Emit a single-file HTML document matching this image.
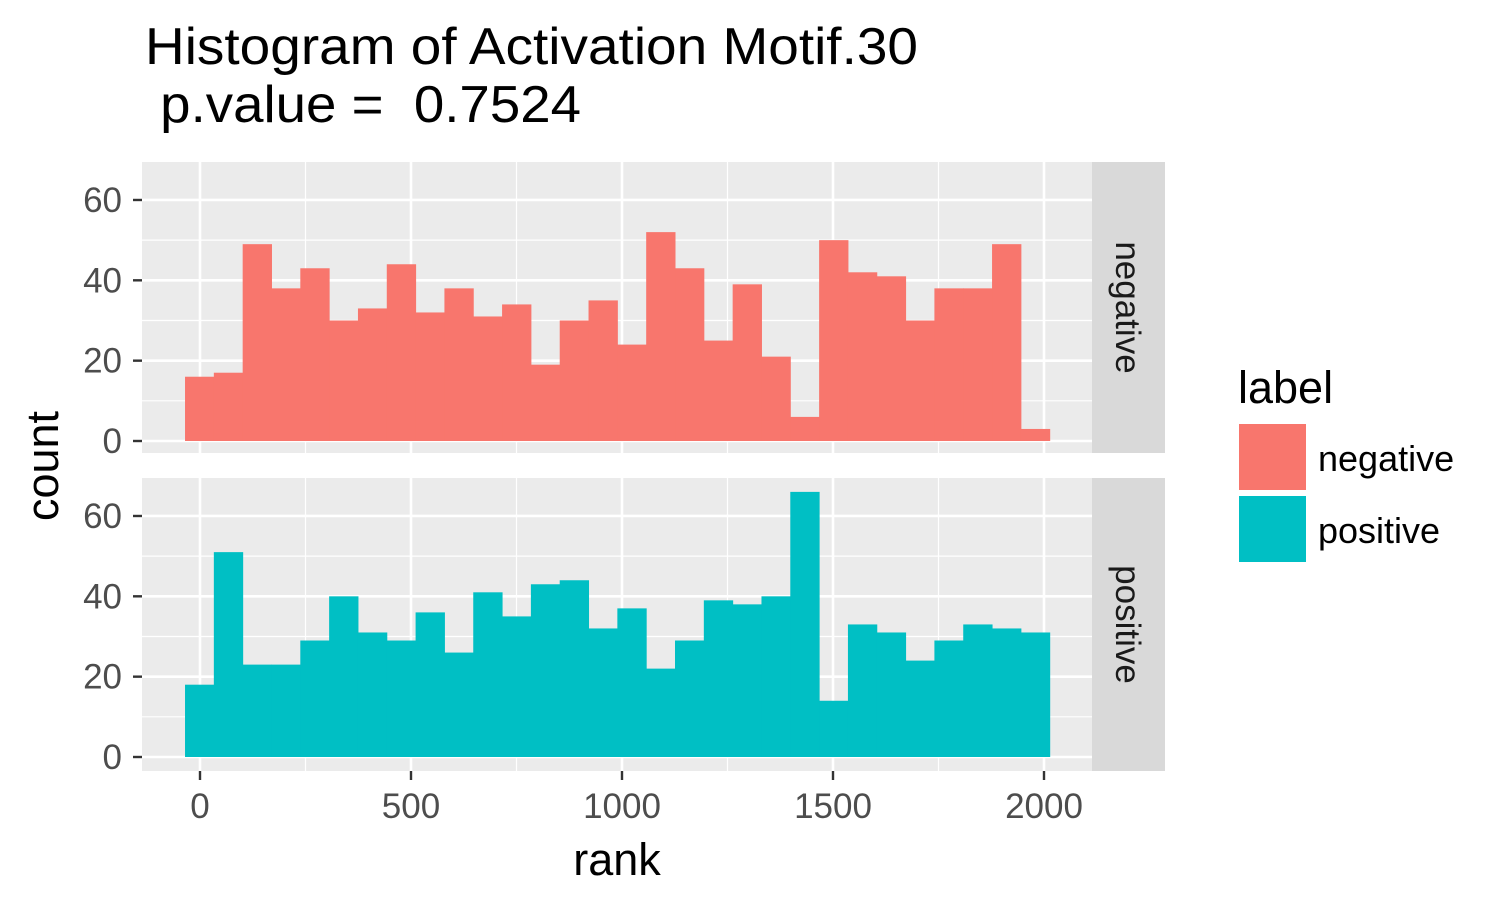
<!DOCTYPE html>
<html><head><meta charset="utf-8"><style>
body{margin:0;background:#fff}
svg{font-family:"Liberation Sans",Arial,sans-serif}
</style></head><body>
<svg id="chart" width="1500" height="900" xmlns="http://www.w3.org/2000/svg">
<text x="145" y="64" font-size="52" textLength="773" lengthAdjust="spacingAndGlyphs">Histogram of Activation Motif.30</text>
<text x="145" y="122" font-size="52" textLength="436" lengthAdjust="spacingAndGlyphs" xml:space="preserve"> p.value =  0.7524</text>
<g id="panels"></g>
<text x="617" y="875" font-size="45" text-anchor="middle">rank</text>
<text transform="translate(58,466) rotate(-90)" font-size="45" text-anchor="middle">count</text>
<g>
<text x="1238" y="403" font-size="45">label</text>
<rect x="1239" y="424" width="67" height="66" fill="#F8766D"/>
<text x="1318" y="471" font-size="36">negative</text>
<rect x="1239" y="496" width="67" height="66" fill="#00BFC4"/>
<text x="1318" y="543" font-size="36">positive</text>
</g>
</svg>
<script>
const binStart = -35.5;
const binWidth = 68.3;
const negativeCounts = [16,17,49,38,43,30,33,44,32,38,31,34,19,30,35,24,52,43,25,39,21,6,50,42,41,30,38,38,49,3];
const positiveCounts = [18,51,23,23,29,40,31,29,36,26,41,35,43,44,32,37,22,29,39,38,40,66,14,33,31,24,29,33,32,31];
const xTicks = [0,500,1000,1500,2000];
const xMinor = [250,750,1250,1750];
const yTicks = [0,20,40,60];
const yMinor = [10,30,50];

const NS="http://www.w3.org/2000/svg";
const g=document.getElementById('panels');
const X0=142,X1=1092;
const xs=v=>200+v*0.422;
function mk(tag,attrs,parent){const e=document.createElementNS(NS,tag);for(const k in attrs)e.setAttribute(k,attrs[k]);(parent||g).appendChild(e);return e;}
const panels=[{name:'negative',top:162,bot:453,zero:441,data:negativeCounts,color:'#F8766D'},
{name:'positive',top:478,bot:771,zero:757,data:positiveCounts,color:'#00BFC4'}];
panels.forEach(p=>{
  const ys=v=>p.zero-v*4.017;
  const bg=mk('rect',{x:X0,y:p.top,width:X1-X0,height:p.bot-p.top,fill:'#EBEBEB'});
  
  
  yMinor.forEach(v=>mk('line',{x1:X0,x2:X1,y1:ys(v),y2:ys(v),stroke:'#fff','stroke-width':1.2}));
  xMinor.forEach(v=>mk('line',{x1:xs(v),x2:xs(v),y1:p.top,y2:p.bot,stroke:'#fff','stroke-width':1.2}));
  yTicks.forEach(v=>{
    mk('line',{x1:X0,x2:X1,y1:ys(v),y2:ys(v),stroke:'#fff','stroke-width':2.6});
    mk('line',{x1:133,x2:142,y1:ys(v),y2:ys(v),stroke:'#333','stroke-width':2.4});
    const t=mk('text',{x:122,y:ys(v)+12,'font-size':35,'text-anchor':'end',fill:'#4D4D4D'});
    t.textContent=v;
    
    
  });
  xTicks.forEach(v=>mk('line',{x1:xs(v),x2:xs(v),y1:p.top,y2:p.bot,stroke:'#fff','stroke-width':2.6}));
  p.data.forEach((c,i)=>{
    const x=xs(binStart+i*binWidth),w=xs(binStart+(i+1)*binWidth)-x;
    const r=mk('rect',{x:x,y:ys(c),width:w+0.5,height:ys(0)-ys(c),fill:p.color});
    
    
  });
  const s=mk('rect',{x:X1,y:p.top,width:73,height:p.bot-p.top,fill:'#D9D9D9'});
  
  
  const st=mk('text',{transform:`translate(1116,${(p.top+p.bot)/2}) rotate(90)`,'font-size':35,'text-anchor':'middle',fill:'#1A1A1A'});
  st.textContent=p.name;
  
  
});
xTicks.forEach(v=>{
  mk('line',{x1:xs(v),x2:xs(v),y1:771,y2:780,stroke:'#333','stroke-width':2.4});
  const t=mk('text',{x:xs(v),y:818,'font-size':35,'text-anchor':'middle',fill:'#4D4D4D'});
  t.textContent=v;
  
  
});
</script>
</body></html>
